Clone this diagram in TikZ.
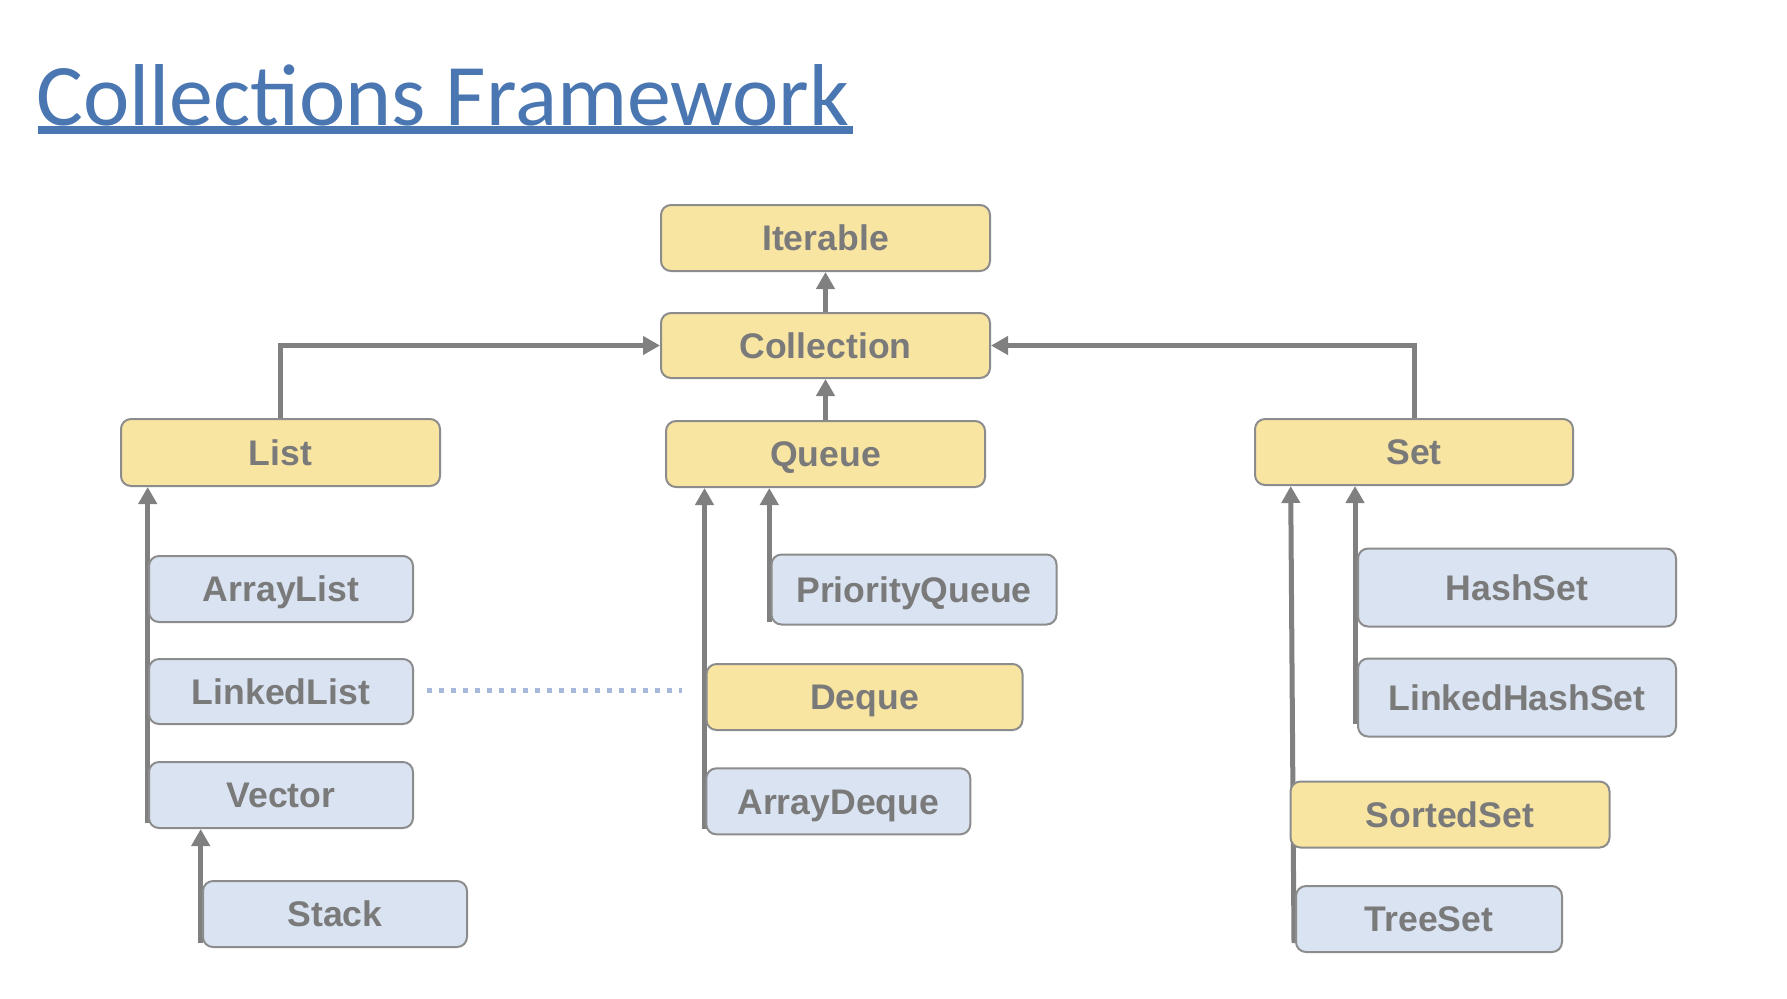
\documentclass[tikz,border=0pt]{standalone}
\usepackage{fontspec}
\setmainfont{Liberation Sans}
\newfontfamily\titlefont{Carlito}
\usetikzlibrary{arrows.meta,backgrounds}

\definecolor{boxyellow}{HTML}{F9E5A2}
\definecolor{boxblue}{HTML}{DAE3F2}
\definecolor{edgegray}{HTML}{8C8C8C}
\definecolor{textgray}{HTML}{7A7A7A}
\definecolor{linegray}{HTML}{808080}
\definecolor{titleblue}{HTML}{4A77B1}
\definecolor{dotblue}{HTML}{A8B8DC}

\tikzset{
  cls/.style 2 args={draw=edgegray, line width=1pt, rounded corners=5pt,
    minimum width=#1*0.5pt, minimum height=#2*0.5pt, inner sep=0pt,
    font=\fontsize{17.8pt}{20pt}\selectfont\bfseries, text=textgray,
    text height=12.75pt, text depth=0pt},
  iface/.style 2 args={cls={#1}{#2}, fill=boxyellow},
  impl/.style 2 args={cls={#1}{#2}, fill=boxblue},
  conn/.style={draw=linegray, line width=2.5pt,
    -{Triangle[width=9pt,length=8.5pt]}},
  link/.style={draw=dotblue, line width=2.5pt, dash pattern=on 2.5pt off 3.5pt},
}

\begin{document}
\begin{tikzpicture}[x=0.5pt,y=-0.5pt]
  \begin{pgfonlayer}{background}
    \fill[white] (0,0) rectangle (1787,998);
  \end{pgfonlayer}
  \useasboundingbox (0,0) rectangle (1787,998);

  % heading
  \node[anchor=base west, inner sep=0pt, text=titleblue,
        font=\titlefont\fontsize{43.9pt}{50pt}\selectfont] (title) at (36,125) {Collections Framework};
  \fill[titleblue] (38,126) rectangle (853,134);

  % interfaces
  \node[iface={329}{66}] (iter)  at (825.5,238)   {Iterable};
  \node[iface={329}{65}] (coll)  at (825.5,345.5) {Collection};
  \node[iface={319}{66}] (queue) at (825.5,454)   {Queue};
  \node[iface={319}{67}] (list)  at (280.5,452.5) {List};
  \node[iface={318}{66}] (set)   at (1414,452)    {Set};
  \node[iface={316}{66}] (deque) at (864.5,697)   {Deque};
  \node[iface={319}{66}] (sset)  at (1450,814.5)  {SortedSet};

  % implementations
  \node[impl={264}{66}] (alist)  at (281,589)      {ArrayList};
  \node[impl={264}{65}] (llist)  at (281,691.5)    {LinkedList};
  \node[impl={264}{66}] (vec)    at (281,795)      {Vector};
  \node[impl={264}{66}] (stack)  at (335,914)      {Stack};
  \node[impl={285}{70}] (pq)     at (914,589.5)    {PriorityQueue};
  \node[impl={264}{66}] (adeque) at (838.3,801.3)  {ArrayDeque};
  \node[impl={318}{78}] (hset)   at (1517,587.5)   {HashSet};
  \node[impl={318}{78}] (lhset)  at (1517,697.5)   {LinkedHashSet};
  \node[impl={266}{66}] (tset)   at (1429,919)     {TreeSet};

  % feet of the shared inheritance lines
  \coordinate (listfoot) at (147.7,823);
  \coordinate (vecfoot)  at (200.7,943);
  \coordinate (qfootA)   at (704.5,829);
  \coordinate (qfootB)   at (769.3,622);
  \coordinate (sfootA)   at (1294,943);
  \coordinate (sheadA)   at (1290.7,485);
  \coordinate (sfootB)   at (1355,724);

  \begin{pgfonlayer}{background}
    \draw[conn] (coll.north) -- (iter.south);
    \draw[conn] (queue.north) -- (coll.south);
    \draw[conn] (list.north) |- (coll.west);
    \draw[conn] (set.north) |- (coll.east);
    \draw[conn] (listfoot) -- (listfoot |- list.south);
    \draw[conn] (vecfoot) -- (vecfoot |- vec.south);
    \draw[conn] (qfootA) -- (qfootA |- queue.south);
    \draw[conn] (qfootB) -- (qfootB |- queue.south);
    \draw[conn] (sfootA) -- (sheadA |- set.south);
    \draw[conn] (sfootB) -- (sfootB |- set.south);
    \draw[link, shorten <=6.5pt, shorten >=12pt]
      ([yshift=0.5pt]llist.east) -- ([yshift=0.5pt]llist.east -| deque.west);
  \end{pgfonlayer}
\end{tikzpicture}
\end{document}
